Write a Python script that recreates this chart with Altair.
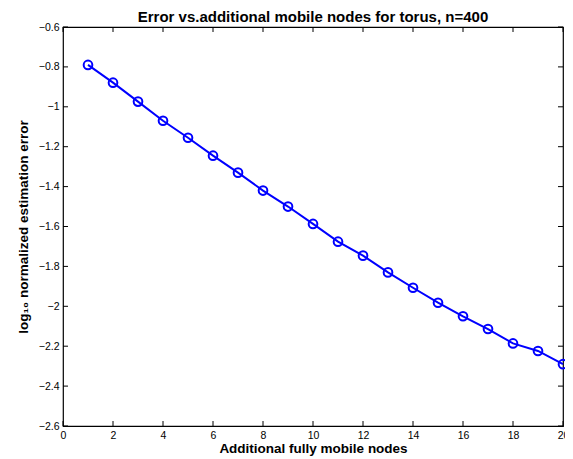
import altair as alt
import pandas as pd

# data
x_vals = list(range(1, 21))
y_vals = [-0.79, -0.879, -0.974, -1.07, -1.155, -1.245, -1.33, -1.42, -1.50, -1.587,
          -1.676, -1.746, -1.83, -1.907, -1.982, -2.05, -2.114, -2.186, -2.224, -2.29]
x_ticks = [0, 2, 4, 6, 8, 10, 12, 14, 16, 18, 20]
y_ticks = [-2.6, -2.4, -2.2, -2.0, -1.8, -1.6, -1.4, -1.2, -1.0, -0.8, -0.6]

W, H = 500, 399
FONT = "Liberation Sans"
BLUE = "#0000ff"

df = pd.DataFrame({"n": x_vals, "err": y_vals})
xt = pd.DataFrame({"n": x_ticks})
yt = pd.DataFrame({"err": y_ticks})

xs = alt.Scale(domain=[0, 20], nice=False, zero=False)
ys = alt.Scale(domain=[-2.6, -0.6], nice=False, zero=False)

xaxis = alt.Axis(
    values=x_ticks, title="Additional fully mobile nodes", grid=False, ticks=False,
    domain=False, labelFont=FONT, labelFontSize=10.5, labelColor="black", labelPadding=4,
    titleFont=FONT, titleFontSize=13.5, titleFontWeight="bold", titleColor="black",
    titlePadding=1, labelFlush=False, labelOverlap=False)
yaxis = alt.Axis(
    values=y_ticks, title="log₁₀ normalized estimation error", grid=False, ticks=False,
    domain=False, labelFont=FONT, labelFontSize=10.5, labelColor="black", labelPadding=4,
    titleFont=FONT, titleFontSize=13.5, titleFontWeight="bold", titleColor="black",
    titlePadding=8, labelFlush=False, labelOverlap=False, format="~g")

X = alt.X("n:Q", scale=xs, axis=xaxis)
Y = alt.Y("err:Q", scale=ys, axis=yaxis)

line = alt.Chart(df).mark_line(color=BLUE, strokeWidth=2).encode(x=X, y=Y)

points = alt.Chart(df).mark_point(shape="circle", filled=False, color=BLUE, size=75,
                                  strokeWidth=2, opacity=1).encode(x=X, y=Y)

tb = alt.Chart(xt).mark_rule(color="black", strokeWidth=1).encode(
    x=X, y=alt.value(H), y2=alt.value(H - 5))
tt = alt.Chart(xt).mark_rule(color="black", strokeWidth=1).encode(
    x=X, y=alt.value(0), y2=alt.value(5))
tl = alt.Chart(yt).mark_rule(color="black", strokeWidth=1).encode(
    y=Y, x=alt.value(0), x2=alt.value(5))
tr = alt.Chart(yt).mark_rule(color="black", strokeWidth=1).encode(
    y=Y, x=alt.value(W), x2=alt.value(W - 5))

chart = alt.layer(line, points, tb, tt, tl, tr).properties(
    width=W, height=H,
    autosize=alt.AutoSizeParams(type="none"),
    padding={"left": 55, "top": 19, "right": 2, "bottom": 31},
    title=alt.TitleParams("Error vs.additional mobile nodes for torus, n=400",
                          font=FONT, fontSize=15, fontWeight="bold", color="black",
                          anchor="middle", offset=-3),
).configure(background="white").configure_view(stroke="black", strokeWidth=1.2)

chart.save("out.html", embed_options={"renderer": "svg", "actions": False})
